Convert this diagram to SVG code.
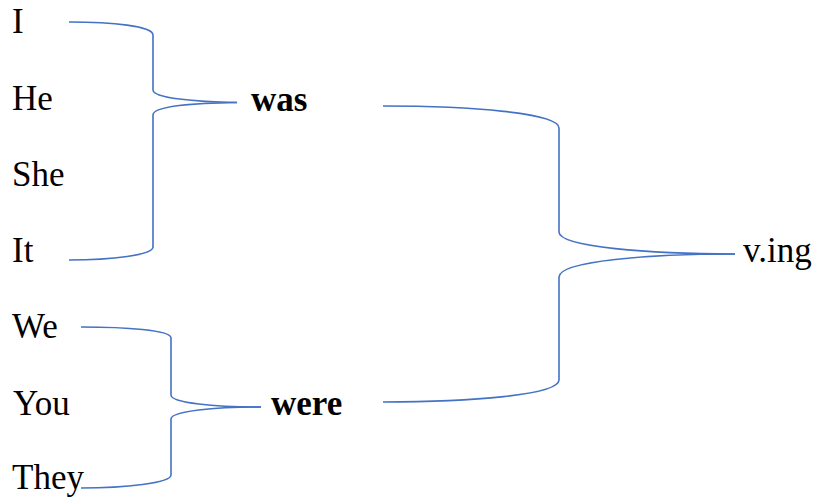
<svg xmlns="http://www.w3.org/2000/svg" width="822" height="498" viewBox="0 0 822 498">
<style>
.c{fill:none;stroke:#4472C4;stroke-width:1.6}
</style>
<rect width="822" height="498" fill="#fff"/>
<g id="connectors">
<path class="c" d="M69 22 C112 22 153 26 153 35 L153 90 C153 98 195 102 237 102.5"/>
<path class="c" d="M237 102.5 C195 103 153 106 153 115 L153 247 C153 255 112 260 69 260"/>
<path class="c" d="M81 327 C125 327 171 330 171 338 L171 395 C171 403 215 407 261 407"/>
<path class="c" d="M261 407 C215 407 171 411 171 419 L171 475 C171 483 125 488 81 488"/>
<path class="c" d="M383 106 C470 106 559 113 559 128 L559 232 C559 247 650 254 735 254"/>
<path class="c" d="M735 254 C650 254 559 261 559 277 L559 380 C559 395 470 402 383 402"/>
</g>
<g font-family="Liberation Serif, DejaVu Serif, serif" font-size="35" fill="#000">
<g id="node-I"><text x="12" y="33">I</text></g>
<g id="node-He"><text x="12" y="110">He</text></g>
<g id="node-She"><text x="12" y="186">She</text></g>
<g id="node-It"><text x="12" y="262">It</text></g>
<g id="node-We"><text x="12" y="338">We</text></g>
<g id="node-You"><text x="13" y="415">You</text></g>
<g id="node-They"><text x="12" y="489">They</text></g>
<g id="node-was"><text font-weight="bold" x="251" y="111">was</text></g>
<g id="node-were"><text font-weight="bold" x="271" y="415">were</text></g>
<g id="node-ving"><text x="743" y="262">v.ing</text></g>
</g>
</svg>
